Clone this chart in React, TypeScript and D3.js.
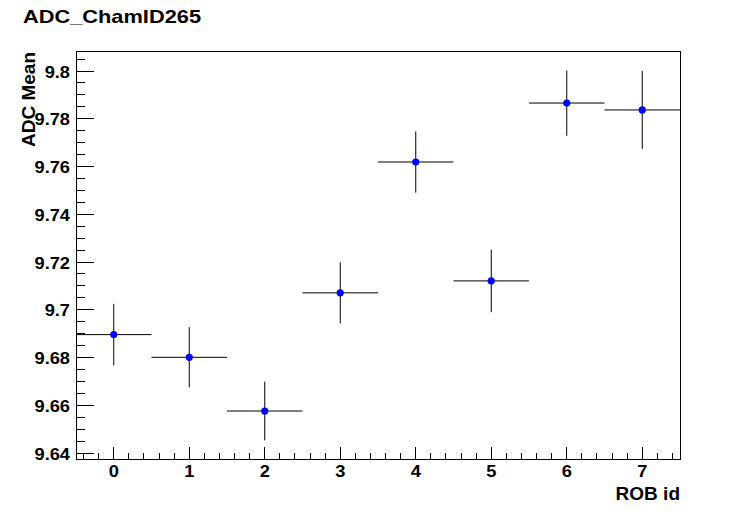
import React from "react";
import * as d3 from "d3";

const robIds = [0, 1, 2, 3, 4, 5, 6, 7];
const adcMean = [9.6896, 9.6801, 9.6576, 9.7071, 9.7619, 9.7121, 9.7866, 9.7837];
const adcErr = [0.0129, 0.0126, 0.0123, 0.0128, 0.0128, 0.0131, 0.0137, 0.0163];
const yTickValues = [9.64, 9.66, 9.68, 9.7, 9.72, 9.74, 9.76, 9.78, 9.8];
const yTickLabels = ["9.64", "9.66", "9.68", "9.7", "9.72", "9.74", "9.76", "9.78", "9.8"];
const xTickValues = [0, 1, 2, 3, 4, 5, 6, 7];

const W = 756, H = 511;
const L = 76, R = 680, T = 51, B = 459;
const FONT = "'Liberation Sans', Arial, Helvetica, sans-serif";

export default function App() {
  const x = d3.scaleLinear().domain([-0.5, 7.5]).range([L, R]);
  const y = d3.scaleLinear().domain([9.6375, 9.8084]).range([B, T]);

  const yMinor = d3.range(9.64, 9.8084, 0.005).filter((v) => v >= 9.6375 && v <= 9.8084);
  const xMinor = d3.range(-0.4, 7.5, 0.2).filter((v) => v > -0.5 && v < 7.5);

  return (
    <svg width={W} height={H} style={{ position: "absolute", left: 0, top: 0, background: "#fff" }}>
      <rect x={0} y={0} width={W} height={H} fill="#fff" />
      <text x={23} y={23} fontFamily={FONT} fontWeight="bold" fontSize={18.5} textLength={178} lengthAdjust="spacingAndGlyphs" fill="#000">ADC_ChamID265</text>

      {/* frame */}
      <rect x={L} y={T} width={R - L} height={B - T} fill="none" stroke="#000" strokeWidth={1} shapeRendering="crispEdges" />

      {/* y ticks */}
      {yMinor.map((v, i) => (
        <line key={"ym" + i} x1={L} x2={L + 9} y1={y(v)} y2={y(v)} stroke="#000" strokeWidth={1} shapeRendering="crispEdges" />
      ))}
      {yTickValues.map((v, i) => (
        <g key={"yt" + i}>
          <line x1={L} x2={L + 18} y1={y(v)} y2={y(v)} stroke="#000" strokeWidth={1} shapeRendering="crispEdges" />
          <text transform={`translate(70,${y(v) + 6.5}) scale(1.12,1)`} textAnchor="end" fontFamily={FONT} fontWeight="bold" fontSize={16.3} fill="#000">{yTickLabels[i]}</text>
        </g>
      ))}

      {/* x ticks */}
      {xMinor.map((v, i) => (
        <line key={"xm" + i} x1={x(v)} x2={x(v)} y1={B} y2={B - 6} stroke="#000" strokeWidth={1} shapeRendering="crispEdges" />
      ))}
      {xTickValues.map((v, i) => (
        <g key={"xt" + i}>
          <line x1={x(v)} x2={x(v)} y1={B} y2={B - 12} stroke="#000" strokeWidth={1} shapeRendering="crispEdges" />
          <text transform={`translate(${x(v)},477) scale(1.12,1)`} textAnchor="middle" fontFamily={FONT} fontWeight="bold" fontSize={16.3} fill="#000">{String(v)}</text>
        </g>
      ))}

      {/* axis titles */}
      <text x={680} y={500} textAnchor="end" fontFamily={FONT} fontWeight="bold" fontSize={19} fill="#000">ROB id</text>
      <text transform={`translate(35,52) rotate(-90)`} textAnchor="end" fontFamily={FONT} fontWeight="bold" fontSize={19} fill="#000">ADC Mean</text>

      {/* data */}
      {robIds.map((id, i) => (
        <g key={"p" + i}>
          <line x1={x(id - 0.5)} x2={x(id + 0.5)} y1={y(adcMean[i])} y2={y(adcMean[i])} stroke="#000" strokeWidth={1} />
          <line x1={x(id)} x2={x(id)} y1={y(adcMean[i] - adcErr[i])} y2={y(adcMean[i] + adcErr[i])} stroke="#000" strokeWidth={1} />
          <circle cx={x(id)} cy={y(adcMean[i])} r={3.6} fill="#0000ff" />
        </g>
      ))}
    </svg>
  );
}
